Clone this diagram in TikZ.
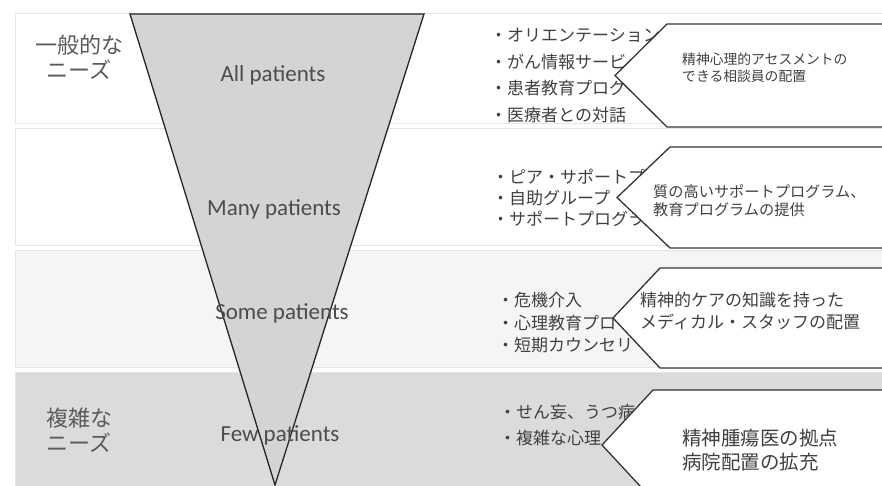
\documentclass[tikz,border=0pt]{standalone}
\usepackage{fontspec}
\newfontfamily\jp{Noto Sans CJK JP}
\newfontfamily\lat{Carlito}
\begin{document}
\begin{tikzpicture}[x=1pt,y=-1pt,
  band/.style={draw=black!10, line width=0.6pt},
  chev/.style={draw=black!80, fill=white, line width=1.3pt},
  funnel/.style={draw=black!85, fill=black!17, line width=1.3pt},
  lbl/.style={font=\lat\fontsize{23}{27}\selectfont, text=black!70},
  need/.style={font=\jp\fontsize{22}{25}\selectfont, text=black!65, align=center},
  item/.style={font=\jp\fontsize{17}{20}\selectfont, text=black!75, anchor=west, inner sep=0pt},
  inbox/.style 2 args={font=\jp\fontsize{#1}{#2}\selectfont, text=black!75, anchor=west, align=left, inner sep=0pt}
]
\useasboundingbox (0,0) rectangle (882,486);
\clip (0,0) rectangle (882,486);
\fill[white] (0,0) rectangle (882,486);
% bands
\draw[band, fill=white] (15,13) rectangle (900,123);
\draw[band, fill=white] (15,128) rectangle (900,245);
\draw[band, fill=black!4] (15,250) rectangle (900,367);
\draw[band, fill=black!14] (15,372) rectangle (900,500);
% funnel
\coordinate (tl) at (130,14);
\coordinate (tr) at (424,14);
\coordinate (ap) at (275,485);
\draw[funnel] (tl) -- (tr) -- (ap) -- cycle;
\node[lbl] (l1) at (273,75) {All patients};
\node[lbl] (l2) at (274,209) {Many patients};
\node[lbl] (l3) at (282,313) {Some patients};
\node[lbl] (l4) at (280,435) {Few patients};
% needs
\node[need] (n1) at (79,57) {一般的な\\ニーズ};
\node[need] (n2) at (79,430) {複雑な\\ニーズ};
% list items
\node[item] (a1) at (490,35) {・オリエンテーション};
\node[item] (a2) at (490,62) {・がん情報サービ};
\node[item] (a3) at (490,88) {・患者教育プログ};
\node[item] (a4) at (490,115) {・医療者との対話};
\node[item] (b1) at (492,177) {・ピア・サポートプロ};
\node[item] (b2) at (492,198) {・自助グループ};
\node[item] (b3) at (492,219) {・サポートプログラ};
\node[item] (c1) at (497,300) {・危機介入};
\node[item] (c2) at (497,323) {・心理教育プロ};
\node[item] (c3) at (497,345) {・短期カウンセリ};
\node[item] (d1) at (499,412) {・せん妄、うつ病};
\node[item] (d2) at (499,438) {・複雑な心理};
% chevrons
\draw[chev] (900,24) -- (667,24) -- (615,75.5) -- (667,127) -- (900,127);
\draw[chev] (900,147) -- (670,147) -- (617,197.5) -- (670,248) -- (900,248);
\draw[chev] (900,268) -- (660,268) -- (613,318) -- (660,368) -- (900,368);
\draw[chev] (900,390) -- (653,390) -- (602,445) -- (653,500) -- (900,500);
\node[inbox={13.8}{17}] (t1) at (682,68) {精神心理的アセスメントの\\できる相談員の配置};
\node[inbox={15.2}{18}] (t2) at (653,201) {質の高いサポートプログラム、\\教育プログラムの提供};
\node[inbox={17}{22}] (t3) at (640,311) {精神的ケアの知識を持った\\メディカル・スタッフの配置};
\node[inbox={19.5}{24}] (t4) at (682,450) {精神腫瘍医の拠点\\病院配置の拡充};
\end{tikzpicture}
\end{document}
